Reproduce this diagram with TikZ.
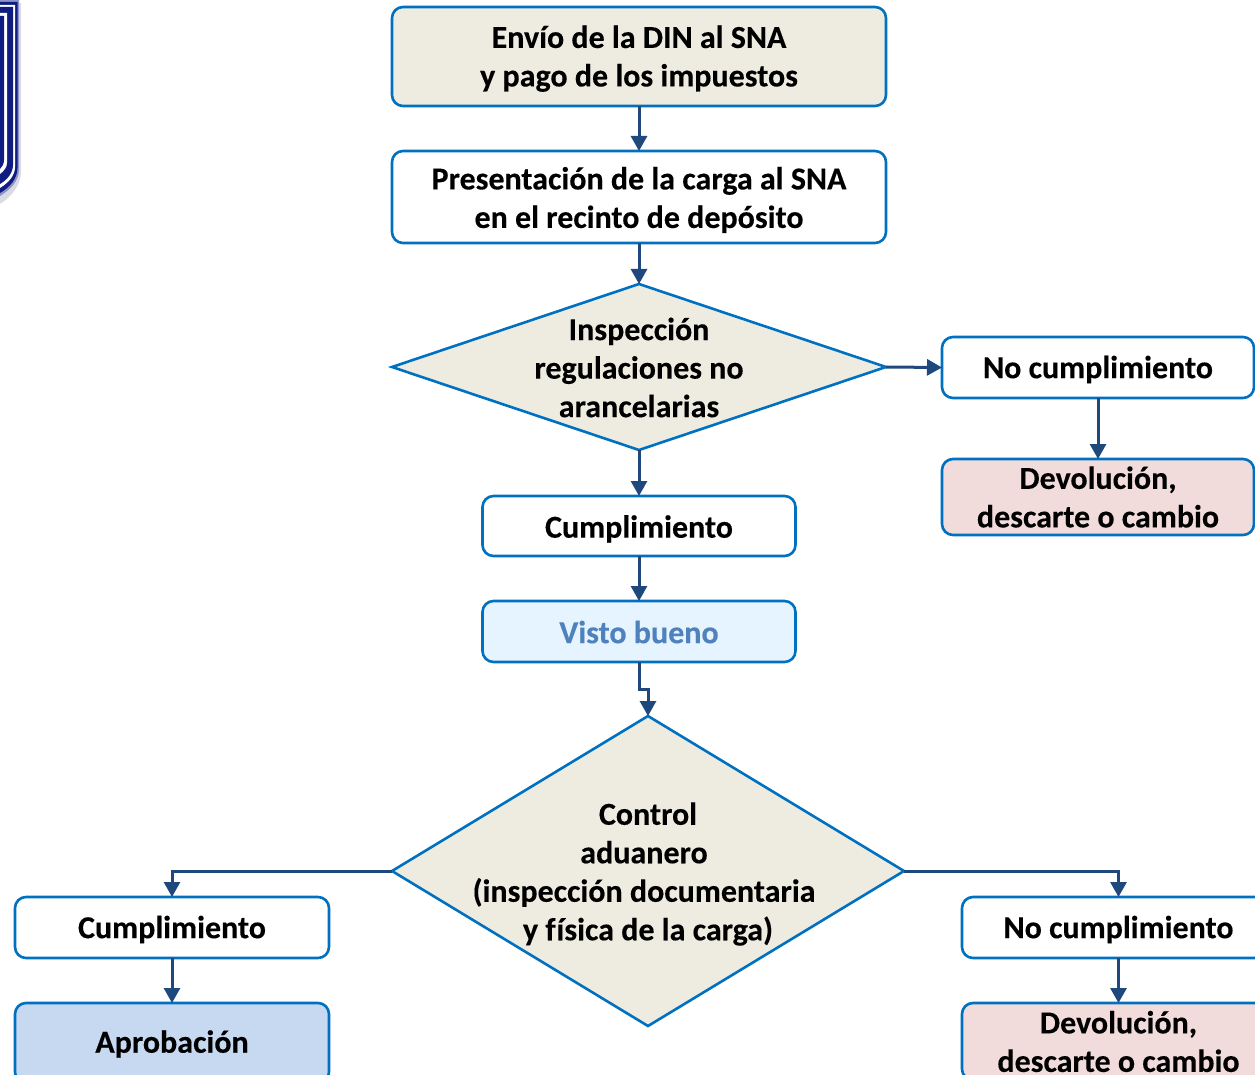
\documentclass[tikz,border=0pt]{standalone}
\usepackage{fontspec}
\setmainfont[BoldFeatures={FakeBold=0.25}]{Carlito}
\usetikzlibrary{arrows.meta,shapes.geometric}
\newcommand{\lowtext}[2]{\raisebox{-#1pt}[\height][\depth]{\begin{tabular}{@{}c@{}}#2\end{tabular}}}
\tikzset{
  x=1pt,y=-1pt,
  every node/.style={font=\fontsize{32}{38.5}\selectfont\bfseries,align=center,inner sep=0pt,outer sep=0pt},
  box/.style={draw=boxline,line width=2.6pt,rounded corners=11pt,fill=white,anchor=center},
  tan/.style={box,fill=tanfill},
  rose/.style={box,fill=rosefill},
  pale/.style={box,fill=palefill,text=paletext},
  blue/.style={box,fill=bluefill},
  dia/.style={diamond,draw=boxline,line width=2.6pt,fill=tanfill,anchor=center},
  conn/.style={draw=connline,line width=3pt,-{Triangle[width=16pt,length=15pt]}}
}
\definecolor{boxline}{HTML}{0070C0}
\definecolor{connline}{HTML}{1F497D}
\definecolor{tanfill}{HTML}{EEECE1}
\definecolor{rosefill}{HTML}{F2DCDB}
\definecolor{palefill}{HTML}{E5F4FF}
\definecolor{paletext}{HTML}{4F81BD}
\definecolor{bluefill}{HTML}{C6D9F1}
\definecolor{shieldnavy}{HTML}{0F1C82}
\definecolor{shieldshade}{HTML}{DADBE4}
\definecolor{shieldedge}{HTML}{8E94C4}
\begin{document}
\begin{tikzpicture}
\useasboundingbox (0,0) rectangle (1255,1075);
\clip (0,0) rectangle (1255,1075);
% logo fragment
\fill[shieldshade] (0,3) -- (21,3) -- (21,172) .. controls (21,186) and (10,198) .. (0,204) -- cycle;
\fill[shieldedge] (0,0) -- (19,0) -- (19,170) .. controls (19,181) and (10,190) .. (0,196) -- cycle;
\fill[shieldnavy] (0,2) -- (17.5,2) -- (17.5,168) .. controls (17.5,179) and (9,188) .. (0,193) -- cycle;
\fill[white] (0,5) -- (15,5) -- (15,167) .. controls (15,176) and (8,183) .. (0,188) -- cycle;
\fill[shieldnavy] (0,7) -- (13,7) -- (13,165) .. controls (13,173) and (7,180) .. (0,184) -- cycle;
\fill[white] (0,13) -- (7,13) -- (7,163) .. controls (7,167) and (4,171) .. (0,174) -- cycle;
\fill[shieldnavy] (0,16) -- (4,16) -- (4,160) .. controls (4,164) and (2,167) .. (0,169) -- cycle;
% nodes
\node[tan,minimum width=494pt,minimum height=99pt] (din) at (639,56.5) {\lowtext{3}{Envío de la DIN al SNA\\y pago de los impuestos}};
\node[box,minimum width=494pt,minimum height=92pt] (carga) at (639,197) {\lowtext{4}{Presentación de la carga al SNA\\en el recinto de depósito}};
\node[dia,minimum width=494pt,minimum height=166pt,aspect=2.976] (insp) at (639,367) {};
\node (insptext) at (639,367.5) {Inspección\\regulaciones no\\arancelarias};
\node[box,minimum width=313pt,minimum height=60pt] (cump1) at (639,526) {\lowtext{4}{Cumplimiento}};
\node[pale,minimum width=313pt,minimum height=61pt] (visto) at (639,631.5) {\lowtext{4}{Visto bueno}};
\node[dia,minimum width=512pt,minimum height=310pt,aspect=1.652] (ctrl) at (648,871) {};
\node (ctrltext) at (644,874) {\hspace*{8pt}Control\\aduanero\\(inspección documentaria\\\hspace*{8pt}y f\kern1ptísica de la carga)};
\node[box,minimum width=312pt,minimum height=61pt] (nc1) at (1098,367.5) {\lowtext{3}{No cumplimiento}};
\node[rose,minimum width=312pt,minimum height=76pt] (dev1) at (1098,497) {Devolución,\\descarte o cambio};
\node[box,minimum width=314pt,minimum height=61pt] (cump2) at (172,927.5) {\lowtext{3}{Cumplimiento}};
\node[blue,minimum width=314pt,minimum height=80pt] (aprob) at (172,1043) {\lowtext{2}{Aprobación}};
\node[box,minimum width=313pt,minimum height=61pt] (nc2) at (1118.5,927.5) {\lowtext{3}{No cumplimiento}};
\node[rose,minimum width=313pt,minimum height=77pt] (dev2) at (1118.5,1041.5) {Devolución,\\descarte o cambio};
% connectors
\draw[conn] (din.south) -- (carga.north);
\draw[conn] (carga.south) -- (insp.north);
\draw[conn] (insp.south) -- (cump1.north);
\draw[conn] (cump1.south) -- (visto.north);
\draw[conn] (insp.east) -- (nc1.west);
\draw[conn] (nc1.south) -- (dev1.north);
\draw[conn] (visto.south) -- ++(0,27) -| (ctrl.north);
\draw[conn] (ctrl.west) -| (cump2.north);
\draw[conn] (cump2.south) -- (aprob.north);
\draw[conn] (ctrl.east) -| (nc2.north);
\draw[conn] (nc2.south) -- (dev2.north);
\end{tikzpicture}
\end{document}
